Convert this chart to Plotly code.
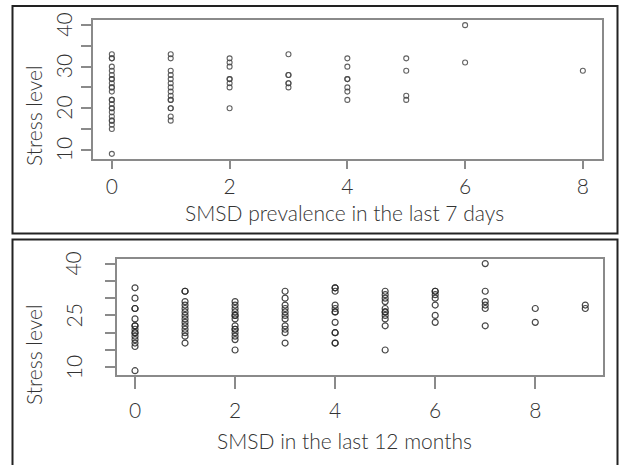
import plotly.graph_objects as go

W, H = 620, 465

# ---- Data: panel 1 (SMSD prevalence in the last 7 days) ----
days7_x = [0, 1, 2, 3, 4, 5, 6, 8]
days7_stress = [
    [33, 32, 32, 30, 29, 28, 27, 27, 26, 25, 25, 24, 22, 22, 21, 20, 20, 19, 18, 17, 17, 16, 15, 9],
    [33, 32, 29, 28, 27, 26, 25, 24, 23, 22, 22, 20, 20, 18, 17],
    [32, 31, 30, 27, 27, 26, 25, 20],
    [33, 28, 28, 26, 26, 25],
    [32, 30, 27, 27, 25, 24, 22],
    [32, 29, 23, 22],
    [40, 31],
    [29],
]

# ---- Data: panel 2 (SMSD in the last 12 months) ----
months12_x = [0, 1, 2, 3, 4, 5, 6, 7, 8, 9]
months12_stress = [
    [33, 30, 27, 27, 24, 22, 22, 21, 20, 20, 19, 18, 17, 16, 9],
    [32, 32, 29, 28, 27, 26, 25, 24, 23, 22, 21, 20, 19, 17],
    [29, 28, 27, 26, 25, 25, 24, 22, 21, 21, 20, 19, 18, 15],
    [32, 30, 28, 27, 26, 25, 24, 22, 21, 20, 17],
    [33, 33, 32, 28, 27, 26, 26, 23, 20, 20, 17, 17],
    [32, 31, 30, 29, 27, 26, 26, 25, 24, 22, 15],
    [32, 32, 31, 30, 28, 25, 23],
    [40, 32, 29, 28, 27, 22],
    [27, 23],
    [28, 27],
]

x_ticks_1 = [0, 2, 4, 6, 8]
y_ticks_1 = [10, 15, 20, 25, 30, 35, 40]
y_labels_1 = [10, 20, 30, 40]
x_ticks_2 = [0, 2, 4, 6, 8]
y_ticks_2 = [10, 15, 20, 25, 30, 35, 40]
y_labels_2 = [10, 25, 40]

title_x1 = "SMSD prevalence in the last 7 days"
title_x2 = "SMSD in the last 12 months"
title_y = "Stress level"


def flatten(xs, groups):
    ox, oy = [], []
    for x, g in zip(xs, groups):
        for v in g:
            ox.append(x)
            oy.append(v)
    return ox, oy


x1, y1 = flatten(days7_x, days7_stress)
x2, y2 = flatten(months12_x, months12_stress)

FONT = "Lato"
TXT = "#333333"
AX = "#8a8a8a"
FS = 21


def px(x):
    return x / W


def py(y):
    return 1 - y / H


fig = go.Figure()
fig.add_trace(go.Scatter(
    x=x1, y=y1, mode="markers", xaxis="x", yaxis="y",
    marker=dict(symbol="circle-open", size=5, color="rgba(70,70,70,0.85)", line=dict(width=1.1)),
    showlegend=False, hoverinfo="skip"))
fig.add_trace(go.Scatter(
    x=x2, y=y2, mode="markers", xaxis="x2", yaxis="y2",
    marker=dict(symbol="circle-open", size=6, color="rgba(40,40,40,0.85)", line=dict(width=1.2)),
    showlegend=False, hoverinfo="skip"))

axis_common = dict(
    showgrid=False, zeroline=False, showline=True, mirror=True,
    linecolor=AX, linewidth=1.5, ticks="outside", tickcolor=AX, tickwidth=1.5,
    tickfont=dict(family=FONT, size=FS, color=TXT, weight=300),
)

txtfont = dict(family=FONT, size=FS, color=TXT, weight=300)

annotations = [
    dict(text=title_x1, xref="paper", yref="paper", x=px(345), y=py(212),
         xanchor="center", yanchor="middle", showarrow=False, font=txtfont),
    dict(text=title_x2, xref="paper", yref="paper", x=px(345), y=py(440),
         xanchor="center", yanchor="middle", showarrow=False, font=txtfont),
    dict(text=title_y, xref="paper", yref="paper", x=px(33), y=py(116), textangle=-90,
         xanchor="center", yanchor="middle", showarrow=False, font=txtfont),
    dict(text=title_y, xref="paper", yref="paper", x=px(33), y=py(355), textangle=-90,
         xanchor="center", yanchor="middle", showarrow=False, font=txtfont),
]
# rotated y tick labels, placed on the library's y scales
for v in y_labels_1:
    annotations.append(dict(text=str(v), xref="paper", yref="y", x=px(63.5), y=v, textangle=-90,
                            xanchor="center", yanchor="middle", showarrow=False, font=txtfont))
for v in y_labels_2:
    annotations.append(dict(text=str(v), xref="paper", yref="y2", x=px(73), y=v, textangle=-90,
                            xanchor="center", yanchor="middle", showarrow=False, font=txtfont))

fig.update_layout(
    width=W, height=H,
    margin=dict(l=0, r=0, t=0, b=0),
    paper_bgcolor="white", plot_bgcolor="white",
    xaxis=dict(domain=[px(93), px(601.7)], range=[-0.32, 8.32], anchor="y",
               tickvals=x_ticks_1, ticklen=8, ticklabelstandoff=0, **axis_common),
    yaxis=dict(domain=[py(159), py(20)], range=[7.76, 41.24], anchor="x",
               tickvals=y_ticks_1, ticklen=10, showticklabels=False, **axis_common),
    xaxis2=dict(domain=[px(117), px(603.3)], range=[-0.36, 9.36], anchor="y2",
                tickvals=x_ticks_2, ticklen=12, ticklabelstandoff=4, **axis_common),
    yaxis2=dict(domain=[py(375), py(259.3)], range=[7.76, 41.24], anchor="x2",
                tickvals=y_ticks_2, ticklen=10, showticklabels=False, **axis_common),
    shapes=[
        dict(type="rect", xref="paper", yref="paper",
             x0=px(12.5), x1=px(617.5), y0=py(233.5), y1=py(6),
             line=dict(color="#222222", width=2)),
        dict(type="rect", xref="paper", yref="paper",
             x0=px(12.5), x1=px(617.5), y0=py(475), y1=py(239.5),
             line=dict(color="#222222", width=2)),
    ],
    annotations=annotations,
)

fig.write_html(
    "out.html",
    config={"displayModeBar": False},
    post_script="document.body.style.margin='0';document.body.style.padding='0';"
                "document.documentElement.style.margin='0';",
)
